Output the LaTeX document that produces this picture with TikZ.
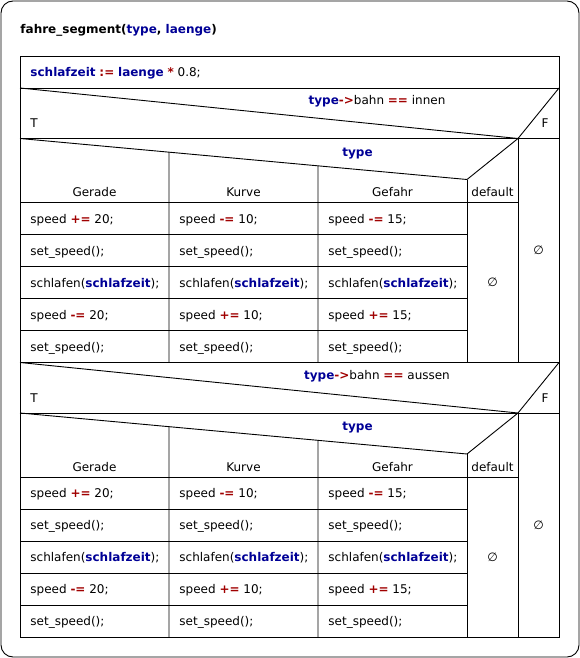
\documentclass[tikz,border=0pt]{standalone}
\usepackage{fontspec}
\setmainfont{DejaVu Sans}
\usetikzlibrary{calc}
\definecolor{idblue}{RGB}{0,0,150}
\definecolor{opred}{RGB}{160,0,0}
\newcommand{\idf}[1]{\textbf{\textcolor{idblue}{#1}}}
\newcommand{\opf}[1]{\textbf{\textcolor{opred}{#1}}}
\begin{document}
\begin{tikzpicture}[x=1pt, y=-1pt, line width=0.9pt,
  every node/.style={inner sep=0pt, font=\fontsize{12}{14}\selectfont},
  stmt/.style={anchor=base west},
  lbl/.style={anchor=base}]
\useasboundingbox (0,0) rectangle (580,658);
\draw[rounded corners=12pt] (1,1) rectangle (579,657);
\node[stmt] (title) at (20,34) {\textbf{fahre\_segment(\idf{type}, \idf{laenge})}};
% outer frame and first statement
\draw (20,56) rectangle (559,637);
\draw (20,88) -- (559,88);
\node[stmt] (init) at (30,76.5) {\idf{schlafzeit} \opf{:=} \idf{laenge} \opf{*} 0.8;};
% two if blocks with the same case inside
\foreach \oy/\cond/\blk in {0/innen/a, 274.5/aussen/b}{
\begin{scope}[shift={(0,\oy)}]
  % if head
  \draw (20,88) -- (518,138.5) -- (559,88);
  \draw (20,138.5) -- (559,138.5);
  \draw (518,138.5) -- (518,362.5);
  \draw (20,362.5) -- (559,362.5);
  \node[lbl] (cond\blk) at (377,105) {\idf{type}\opf{->}bahn \opf{==} \cond};
  \node[stmt] (t\blk) at (30,128) {T};
  \node[lbl] (f\blk) at (545,128) {F};
  \node (fempty\blk) at (538.5,250.5) {∅};
  % case head
  \coordinate (cl\blk) at (20,138.5);
  \coordinate (cr\blk) at (467,179.5);
  \draw (cl\blk) -- (cr\blk) -- (518,138.5);
  \draw (20,202.5) -- (518,202.5);
  \draw ($(cl\blk)!1/3!(cr\blk)$) -- (169,362.5);
  \draw ($(cl\blk)!2/3!(cr\blk)$) -- (318,362.5);
  \draw (cr\blk) -- (467,362.5);
  \node[lbl] (sel\blk) at (357.5,156) {\idf{type}};
  \node[lbl] (default\blk) at (492.5,196.5) {default};
  \node (dempty\blk) at (492.5,282.5) {∅};
  \foreach \y in {234.5, 266.5, 298.5, 330.5}
    \draw (20,\y) -- (467,\y);
  % case columns
  \foreach \col/\name/\x/\sa/\sb/\n in {g/Gerade/20/+/-/20, k/Kurve/169/-/+/10, h/Gefahr/318/-/+/15}{
    \node[lbl] (\col\blk) at (\x+74.5,196.5) {\name};
    \node[stmt] (\col\blk1) at (\x+10,223) {speed \opf{\sa=} \n;};
    \node[stmt] (\col\blk2) at (\x+10,255) {set\_speed();};
    \node[stmt] (\col\blk3) at (\x+10,287) {schlafen(\idf{schlafzeit});};
    \node[stmt] (\col\blk4) at (\x+10,319) {speed \opf{\sb=} \n;};
    \node[stmt] (\col\blk5) at (\x+10,351) {set\_speed();};
  }
\end{scope}
}
\end{tikzpicture}
\end{document}
